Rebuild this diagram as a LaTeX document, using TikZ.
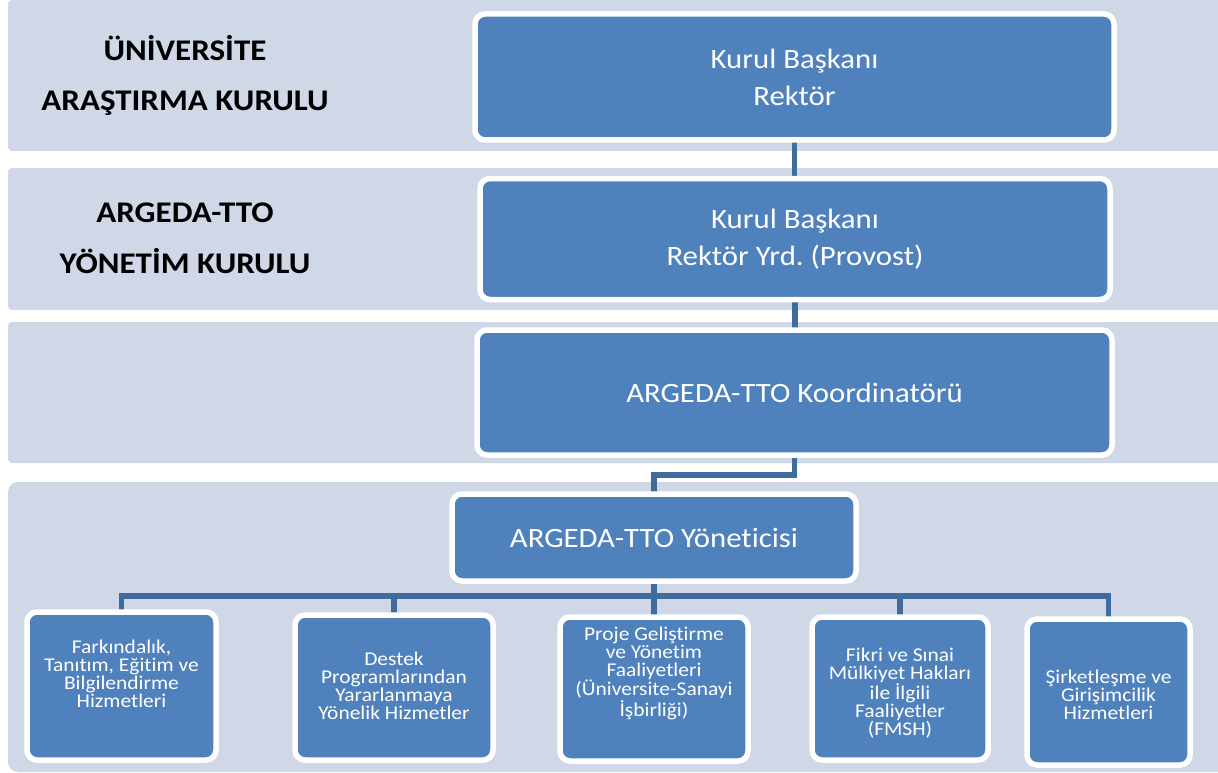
\documentclass[tikz,border=0pt]{standalone}
\usepackage{fontspec}
\setmainfont{Carlito}[FakeStretch=1.1, Ligatures=NoCommon]
\usetikzlibrary{calc}
\definecolor{bandc}{HTML}{D0D8E8}
\definecolor{boxc}{HTML}{4F81BD}
\definecolor{connc}{HTML}{3F6B9F}
\pgfdeclarelayer{bands}
\pgfdeclarelayer{links}
\pgfsetlayers{bands,links,main}
\frenchspacing
\begin{document}
\begin{tikzpicture}[x=1pt,y=-1pt,
  bandbox/.style={fill=bandc},
  unit/.style={draw=white, line width=5.5pt, fill=boxc, rounded corners=10pt, inner sep=0pt, text=white, align=center},
  bigtext/.style={font=\fontsize{28}{37}\selectfont},
  leaftext/.style={text=white, align=center, inner sep=0pt, font=\fontsize{19.5}{18}\selectfont},
  lbl/.style={font=\bfseries\fontsize{30}{36}\selectfont, inner sep=0pt, anchor=base},
  conn/.style={draw=connc, line width=5.5pt}]
\useasboundingbox (0,0) rectangle (1218,773);
\begin{pgfonlayer}{bands}
  \fill[bandbox, rounded corners=4pt] (8,0) rectangle (1240,151);
  \fill[bandbox, rounded corners=4pt] (8,168) rectangle (1240,310);
  \fill[bandbox, rounded corners=4pt] (8,322) rectangle (1240,463);
  \fill[bandbox, rounded corners=10pt] (8,482) rectangle (1240,772);
\end{pgfonlayer}

% left labels
\node[lbl] (l1) at (185,61) {ÜNİVERSİTE};
\node[lbl] (l2) at (185,111) {ARAŞTIRMA KURULU};
\node[lbl] (l3) at (185,222) {ARGEDA-TTO};
\node[lbl] (l4) at (185,273) {YÖNETİM KURULU};

% main boxes
\node[unit, bigtext, minimum width=639pt, minimum height=126pt] (k1) at (794.5,77) {Kurul Başkanı\\Rektör};
\node[unit, bigtext, minimum width=630pt, minimum height=121pt] (k2) at (795,239) {Kurul Başkanı\\Rektör Yrd. (Provost)};
\node[unit, bigtext, minimum width=635pt, minimum height=125pt] (k3) at (794.5,392.5) {ARGEDA-TTO Koordinatörü};
\node[unit, bigtext, minimum width=404pt, minimum height=87pt] (k4) at (654,537.5) {ARGEDA-TTO Yöneticisi};

% leaf boxes
\node[unit, minimum width=189pt, minimum height=148pt] (b1) at (121.5,686) {};
\node[unit, minimum width=198pt, minimum height=145pt] (b2) at (394,687.5) {};
\node[unit, minimum width=188pt, minimum height=144pt] (b3) at (654,689) {};
\node[unit, minimum width=176pt, minimum height=143pt] (b4) at (900,688.5) {};
\node[unit, minimum width=163pt, minimum height=146pt] (b5) at (1108.5,692) {};

\node[leaftext] (t1) at (121.5,674) {Farkındalık,\\Tanıtım, Eğitim ve\\Bilgilendirme\\Hizmetleri};
\node[leaftext] (t2) at (394,686) {Destek\\Programlarından\\Yararlanmaya\\Yönelik Hizmetler};
\node[leaftext] (t3) at (654,673) {Proje Geliştirme\\ve Yönetim\\Faaliyetleri\\(Üniversite-Sanayi\\İşbirliği)};
\node[leaftext] (t4) at (900,693) {Fikri ve Sınai\\Mülkiyet Hakları\\ile İlgili\\Faaliyetler\\(FMSH)};
\node[leaftext] (t5) at (1108.5,695) {Şirketleşme ve\\Girişimcilik\\Hizmetleri};

% connectors
\begin{pgfonlayer}{links}
  \draw[conn] (k1.center) -- (k1.center |- k2.center);
  \draw[conn] (k2.center) -- (k2.center |- k3.center);
  \draw[conn] (k3.center) -- (k3.center |- 0,475) -| (k4.center);
  \draw[conn] (k4.center) -- (k4.center |- b3.center);
  \draw[conn, line cap=rect] (b1.center) -- (b1.center |- 0,596) -- (b5.center |- 0,596) -- (b5.center);
  \draw[conn] (b2.center) -- (b2.center |- 0,596);
  \draw[conn] (b4.center) -- (b4.center |- 0,596);
\end{pgfonlayer}
\end{tikzpicture}
\end{document}
